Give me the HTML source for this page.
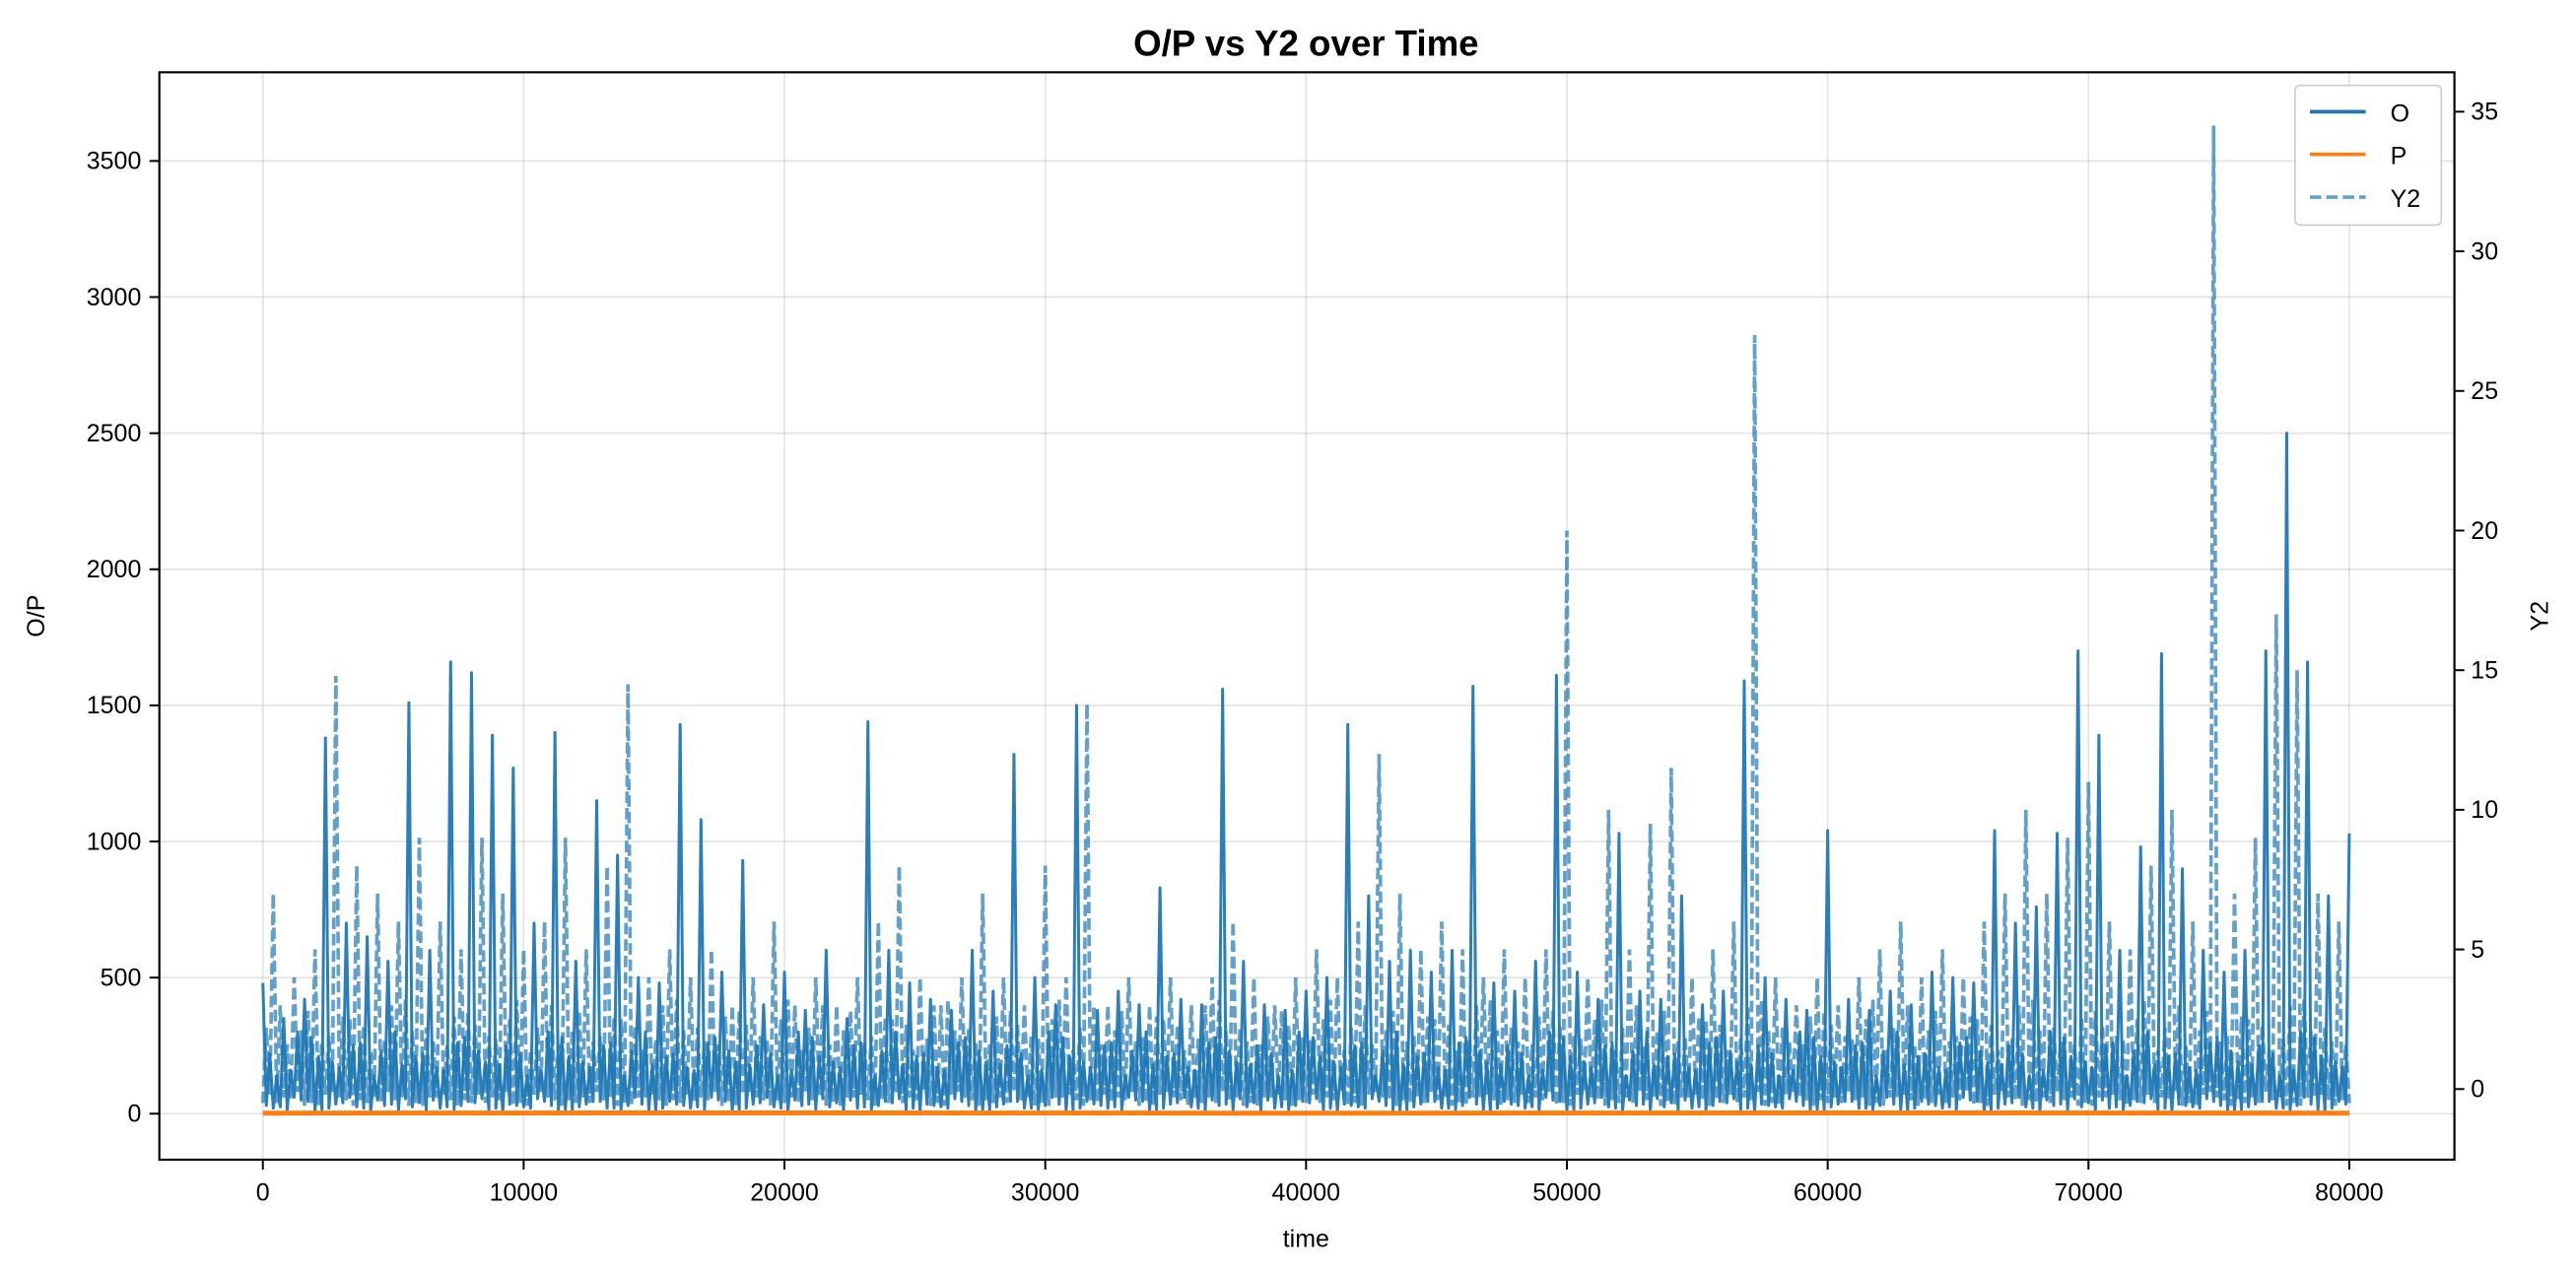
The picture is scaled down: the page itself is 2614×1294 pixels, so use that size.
<!DOCTYPE html>
<html><head><meta charset="utf-8"><style>
body{margin:0;background:#fff;}
svg{display:block;}
svg text{font-family:"Liberation Sans","DejaVu Sans",sans-serif;fill:#000;}
</style></head><body>
<svg id="chart" width="2614" height="1294" viewBox="0 0 1568 776.2" preserveAspectRatio="none" xmlns="http://www.w3.org/2000/svg">
<rect width="1568" height="777" fill="#fff"/>
<g id="grid"></g>
<g id="series"></g>
<rect x="97" y="44" width="1397" height="662" fill="none" stroke="#000" stroke-width="1.3"/>
<g id="axes"></g>
<text x="795" y="34" font-size="22" font-weight="bold" text-anchor="middle">O/P vs Y2 over Time</text>
<text x="795" y="759" font-size="15" text-anchor="middle">time</text>
<text transform="translate(27,375) rotate(-90)" font-size="15" text-anchor="middle">O/P</text>
<text transform="translate(1551,375) rotate(-90)" font-size="15" text-anchor="middle">Y2</text>
<g>
<rect x="1397" y="52" width="89" height="85" rx="3" fill="#fff" fill-opacity="0.85" stroke="#ccc"/>
<g><line x1="1406" y1="68" x2="1440" y2="68" stroke="#1f77b4" stroke-width="2.2"/><text x="1455" y="74" font-size="15">O</text></g>
<g><line x1="1406" y1="94" x2="1440" y2="94" stroke="#ff7f0e" stroke-width="2.2"/><text x="1455" y="100" font-size="15">P</text></g>
<g><line x1="1406" y1="120" x2="1440" y2="120" stroke="#1f77b4" stroke-opacity="0.7" stroke-width="2.2" stroke-dasharray="7,3"/><text x="1455" y="126" font-size="15">Y2</text></g>
</g>
</svg>
<script>
const xTicks=[0,10000,20000,30000,40000,50000,60000,70000,80000];
const yTicks=[0,500,1000,1500,2000,2500,3000,3500];
const y2Ticks=[0,5,10,15,20,25,30,35];
const oPeaks=[480,350,420,1380,700,650,560,1510,600,1660,1620,1390,1270,700,1400,560,1150,950,500,480,1430,1080,520,930,400,520,380,600,350,1440,600,480,420,380,600,450,1320,500,400,1500,380,450,400,830,420,400,1560,560,400,380,450,500,1430,800,560,600,520,600,1570,480,450,560,1610,520,420,1030,450,420,800,400,450,1590,500,420,380,1040,420,380,450,400,520,500,480,1040,700,760,1030,1700,1390,600,980,1690,900,600,520,600,1700,2500,1660,800,1030];
const oLows=[30,15,45,20,60,10,35,25,50,15,40,20,30,55,10,25,45,15,35,20];
const oFill=[220,160,280,190,250,140,300,210,170,260,230,180];
const y2Peaks=[7,4,5,14.8,8,7,6,9,6,5,9,7,5,6,9,5,8,14.5,4,5,4,5,3,4,6,3,4,3,4,6,8,4,3,4,7,4,3,8,4,13.8,3,4,3,4,3,4,6,4,3,4,5,4,6,12,7,5,6,5,4,5,4,5,20,4,10,5,9.5,11.5,4,5,6,27,4,3,4,3,4,5,6,4,5,4,6,7,10,7,9,11,6,5,8,10,6,34.5,7,9,17,15,7,6];
const y2Lows=[-0.5,-0.3,-0.6,-0.2,-0.4,-0.5,-0.1,-0.6,-0.3,-0.4];
const y2Fill=[2.2,1.6,2.8,1.9,2.5,1.4,3.0,2.1,1.7,2.6,2.3,1.8,3.2];
const pTimes=[0,20000,40000,60000,80000];
const pValues=[2,3,2,3,2];
const X=t=>160+t*0.015875;
const Y=v=>678-v*0.165714;
const Y2=v=>663-v*17;
const NS='http://www.w3.org/2000/svg';
function mk(tag,parent,attrs){const e=document.createElementNS(NS,tag);for(const k in attrs)e.setAttribute(k,attrs[k]);parent.appendChild(e);return e;}
const grid=document.getElementById('grid'),axes=document.getElementById('axes'),ser=document.getElementById('series');
xTicks.forEach(t=>{
 const g=mk('line',grid,{x1:X(t),x2:X(t),y1:44,y2:706,stroke:'#b0b0b0','stroke-opacity':0.35,'stroke-width':1});
 
 const k=mk('line',axes,{x1:X(t),x2:X(t),y1:706,y2:712,stroke:'#000','stroke-width':1.2});
 
 const l=mk('text',axes,{x:X(t),y:731,'font-size':15,'text-anchor':'middle'});l.textContent=t;
 
});
yTicks.forEach(v=>{
 const g=mk('line',grid,{x1:97,x2:1494,y1:Y(v),y2:Y(v),stroke:'#b0b0b0','stroke-opacity':0.35,'stroke-width':1});
 
 const k=mk('line',axes,{x1:91,x2:97,y1:Y(v),y2:Y(v),stroke:'#000','stroke-width':1.2});
 
 const l=mk('text',axes,{x:86,y:Y(v)+5,'font-size':15,'text-anchor':'end'});l.textContent=v;
 
});
y2Ticks.forEach(v=>{
 const k=mk('line',axes,{x1:1494,x2:1500,y1:Y2(v),y2:Y2(v),stroke:'#000','stroke-width':1.2});
 
 const l=mk('text',axes,{x:1504,y:Y2(v)+5,'font-size':15});l.textContent=v;
 
});
// O: each 800-unit segment = peak, low, filler, low, filler, low
let op=[];
oPeaks.forEach((v,k)=>{
 const t=k*800;op.push(X(t)+','+Y(v));
 if(k<oPeaks.length-1){
  op.push(X(t+133)+','+Y(oLows[k%oLows.length]));
  op.push(X(t+267)+','+Y(oFill[k%oFill.length]));
  op.push(X(t+400)+','+Y(oLows[(k+3)%oLows.length]));
  op.push(X(t+533)+','+Y(oFill[(k+5)%oFill.length]));
  op.push(X(t+667)+','+Y(oLows[(k+7)%oLows.length]));
 }
});
const oLine=mk('polyline',ser,{points:op.join(' '),fill:'none',stroke:'#2a7fba','stroke-width':1.8,'stroke-linejoin':'round'});

const pLine=mk('polyline',ser,{points:pTimes.map((t,i)=>X(t)+','+Y(pValues[i])).join(' '),fill:'none',stroke:'#ff7f0e','stroke-width':3});

// Y2: each segment = low, filler, low, peak, low, filler
let yp=[];
y2Peaks.forEach((v,k)=>{
 const t=k*800;
 yp.push(X(t)+','+Y2(y2Lows[k%y2Lows.length]));
 yp.push(X(t+133)+','+Y2(y2Fill[k%y2Fill.length]));
 yp.push(X(t+267)+','+Y2(y2Lows[(k+3)%y2Lows.length]));
 yp.push(X(t+400)+','+Y2(v));
 yp.push(X(t+533)+','+Y2(y2Lows[(k+5)%y2Lows.length]));
 yp.push(X(t+667)+','+Y2(y2Fill[(k+6)%y2Fill.length]));
});
yp.push(X(80000)+','+Y2(y2Lows[0]));
const y2Line=mk('polyline',ser,{points:yp.join(' '),fill:'none',stroke:'#1f77b4','stroke-opacity':0.7,'stroke-width':2.2,'stroke-dasharray':'7,3'});

</script>
</body></html>
